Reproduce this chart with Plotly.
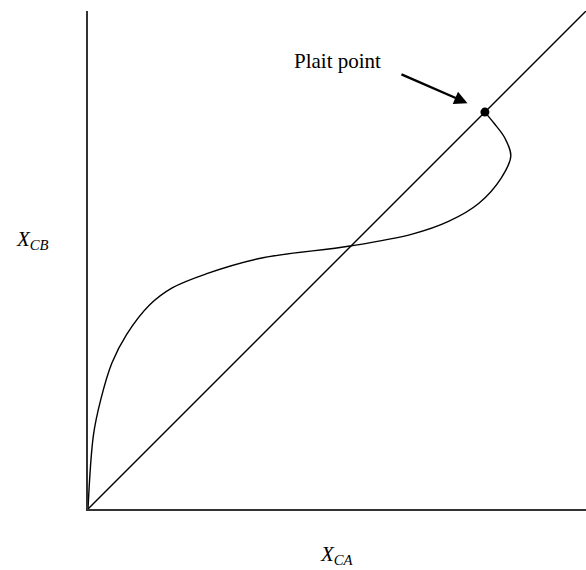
import plotly.graph_objects as go

# Equilibrium (distribution) curve: mole fraction of C in phase A vs phase B
x_ca = [0.0, 0.011, 0.026, 0.048, 0.078, 0.124, 0.169, 0.237, 0.349, 0.526,
        0.651, 0.725, 0.785, 0.830, 0.849, 0.837, 0.815, 0.797]
x_cb = [0.0, 0.149, 0.221, 0.293, 0.351, 0.410, 0.444, 0.472, 0.504, 0.528,
        0.552, 0.578, 0.614, 0.665, 0.709, 0.745, 0.775, 0.797]

# 45-degree reference line
diag_x = [0.0, 1.0]
diag_y = [0.0, 1.0]

# Plait point
plait_x = [0.797]
plait_y = [0.797]
plait_label = "Plait point"

serif = "Liberation Serif, Times New Roman, serif"

fig = go.Figure()
fig.add_trace(go.Scatter(x=diag_x, y=diag_y, mode="lines",
                         line=dict(color="black", width=1.4), hoverinfo="skip"))
fig.add_trace(go.Scatter(x=x_ca, y=x_cb, mode="lines",
                         line=dict(color="black", width=1.4, shape="spline", smoothing=1.0),
                         hoverinfo="skip"))
fig.add_trace(go.Scatter(x=plait_x, y=plait_y, mode="markers",
                         marker=dict(color="black", size=9), hoverinfo="skip"))

axis_common = dict(range=[0, 1], showgrid=False, zeroline=False, showticklabels=False,
                   ticks="", showline=True, linecolor="#333333", linewidth=2, fixedrange=True)

fig.update_layout(
    width=586, height=570,
    margin=dict(l=88, r=0, t=11, b=61),
    plot_bgcolor="white", paper_bgcolor="white",
    showlegend=False,
    xaxis=axis_common,
    yaxis=axis_common,
    annotations=[
        dict(text=plait_label, xref="paper", yref="paper", x=0.5, y=0.900,
             showarrow=False, xanchor="center", yanchor="middle",
             font=dict(family=serif, size=21, color="black")),
        dict(text=" ", x=0.762, y=0.815, xref="x", yref="y",
             showarrow=True, ax=-69, ay=-30, axref="pixel", ayref="pixel",
             arrowhead=2, arrowsize=1.1, arrowwidth=2.4, arrowcolor="black"),
        dict(text="<i>X<sub>CB</sub></i>", xref="paper", yref="paper", x=-0.112, y=0.540,
             showarrow=False, xanchor="center", yanchor="middle",
             font=dict(family=serif, size=21, color="black")),
        dict(text="<i>X<sub>CA</sub></i>", xref="paper", yref="paper", x=0.5, y=-0.092,
             showarrow=False, xanchor="center", yanchor="middle",
             font=dict(family=serif, size=21, color="black")),
    ],
)

fig.write_html("out.html")
